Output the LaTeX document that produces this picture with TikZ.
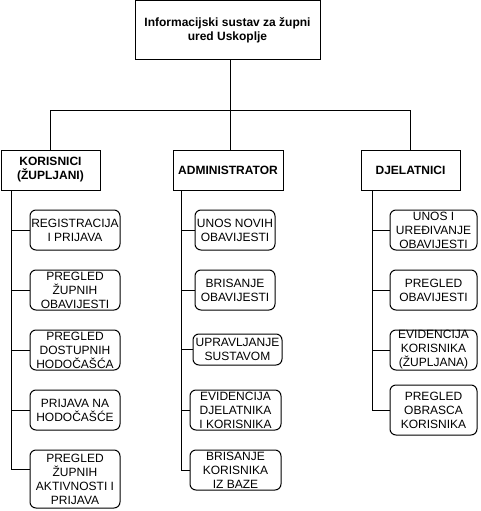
\documentclass[tikz,border=0pt]{standalone}
\usepackage{fontspec}
\setmainfont{Liberation Sans}
\begin{document}
\begin{tikzpicture}[x=1pt,y=-1pt,line width=1pt,
  box/.style={draw=black,fill=white,rectangle,inner sep=0pt},
  rbox/.style={box,rounded corners=6pt},
  txt/.style={inner sep=0pt,align=center,font=\fontsize{12}{14}\selectfont},
  btxt/.style={txt,font=\fontsize{12}{14}\selectfont\bfseries},
  conn/.style={draw=black,line width=1pt}]
\useasboundingbox (0,0) rectangle (481,511);
% top
\node[box,minimum width=185pt,minimum height=59pt] (top) at (227.5,30.5) {};
\node[btxt] (topt) at (top) {Informacijski sustav za župni\\ured Uskoplje};
% level 2
\node[box,minimum width=99pt,minimum height=40pt] (kor) at (50.5,170) {};
\node[btxt] (kort) at (kor) {KORISNICI\\(ŽUPLJANI)};
\node[box,minimum width=110pt,minimum height=40pt] (adm) at (228,170) {};
\node[btxt] (admt) at (adm) {ADMINISTRATOR};
\node[box,minimum width=99pt,minimum height=40pt] (dje) at (410.5,170) {};
\node[btxt] (djet) at (dje) {DJELATNICI};
\coordinate (hub) at (230,110);
\draw[conn] (top.south -| hub) -- (hub);
\draw[conn] (hub) -- (hub -| kor.north) -- (kor.north);
\draw[conn] (hub) -- (adm.north -| hub);
\draw[conn] (hub) -- (hub -| dje.north) -- (dje.north);
% column 1
\node[rbox,minimum width=90pt,minimum height=40pt] (k1) at (75,230) {};
\node[txt] (k1t) at (k1) {REGISTRACIJA\\I PRIJAVA};
\node[rbox,minimum width=90pt,minimum height=40pt] (k2) at (75,290) {};
\node[txt] (k2t) at (k2) {PREGLED\\ŽUPNIH\\OBAVIJESTI};
\node[rbox,minimum width=90pt,minimum height=40pt] (k3) at (75,350) {};
\node[txt] (k3t) at (k3) {PREGLED\\DOSTUPNIH\\HODOČAŠĆA};
\node[rbox,minimum width=90pt,minimum height=40pt] (k4) at (75,410) {};
\node[txt] (k4t) at (k4) {PRIJAVA NA\\HODOČAŠĆE};
\node[rbox,minimum width=90pt,minimum height=58pt] (k5) at (75,479) {};
\node[txt] (k5t) at (k5) {PREGLED\\ŽUPNIH\\AKTIVNOSTI I\\PRIJAVA};
\coordinate (kv) at (11,190);
\draw[conn] (kv) -- (kv |- 0,469) -- (0,469 -| k5.west);
\foreach \n in {k1,k2,k3,k4}{\draw[conn] (kv |- \n.west) -- (\n.west);}
% column 2
\node[rbox,minimum width=80pt,minimum height=40pt] (a1) at (235,230) {};
\node[txt] (a1t) at (a1) {UNOS NOVIH\\OBAVIJESTI};
\node[rbox,minimum width=80pt,minimum height=40pt] (a2) at (235,290) {};
\node[txt] (a2t) at (a2) {BRISANJE\\OBAVIJESTI};
\node[rbox,minimum width=89pt,minimum height=31pt] (a3) at (237.5,349.5) {};
\node[txt] (a3t) at (a3) {UPRAVLJANJE\\SUSTAVOM};
\node[rbox,minimum width=91pt,minimum height=40pt] (a4) at (235.5,410) {};
\node[txt] (a4t) at (a4) {EVIDENCIJA\\DJELATNIKA\\I KORISNIKA};
\node[rbox,minimum width=91pt,minimum height=40pt] (a5) at (235.5,470) {};
\node[txt] (a5t) at (a5) {BRISANJE\\KORISNIKA\\IZ BAZE};
\coordinate (av) at (181,190);
\draw[conn] (av) -- (av |- a5.west) -- (a5.west);
\foreach \n in {a1,a2,a3,a4}{\draw[conn] (av |- \n.west) -- (\n.west);}
% column 3
\node[rbox,minimum width=87pt,minimum height=40pt] (d1) at (433.5,230) {};
\node[txt] (d1t) at (d1) {UNOS I\\UREĐIVANJE\\OBAVIJESTI};
\node[rbox,minimum width=87pt,minimum height=40pt] (d2) at (433.5,290) {};
\node[txt] (d2t) at (d2) {PREGLED\\OBAVIJESTI};
\node[rbox,minimum width=87pt,minimum height=40pt] (d3) at (433.5,350) {};
\node[txt] (d3t) at (d3) {EVIDENCIJA\\KORISNIKA\\(ŽUPLJANA)};
\node[rbox,minimum width=87pt,minimum height=50pt] (d4) at (433.5,410) {};
\node[txt] (d4t) at (d4) {PREGLED\\OBRASCA\\KORISNIKA};
\coordinate (dv) at (372,190);
\draw[conn] (dv) -- (dv |- d4.west) -- (d4.west);
\foreach \n in {d1,d2,d3}{\draw[conn] (dv |- \n.west) -- (\n.west);}
\end{tikzpicture}
\end{document}
